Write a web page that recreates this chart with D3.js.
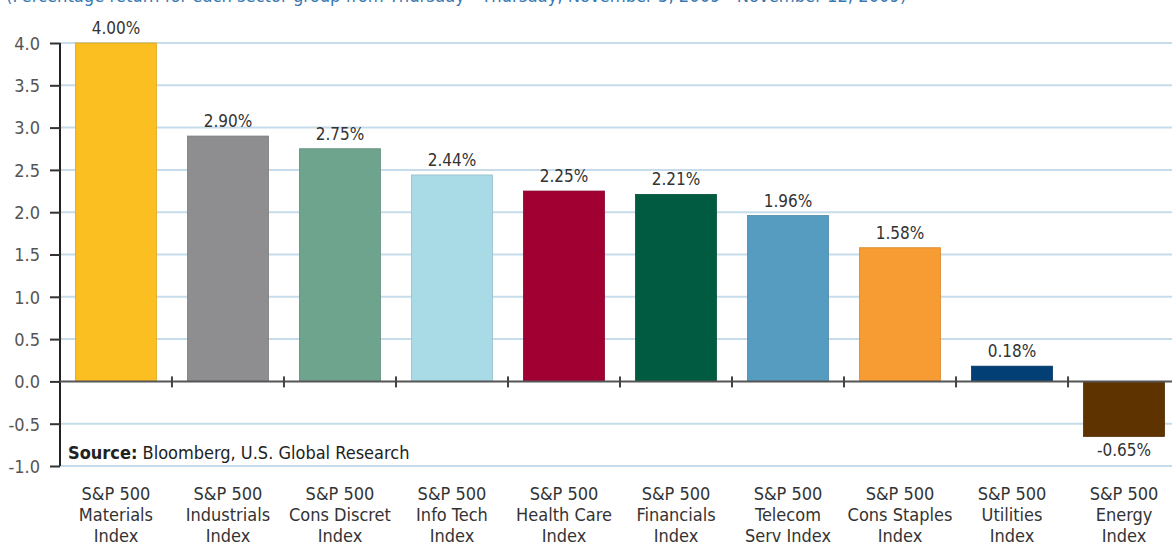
<!DOCTYPE html>
<html><head><meta charset="utf-8">
<script src="https://cdn.jsdelivr.net/npm/d3@7"></script>
<style>
body{margin:0;background:#fff;}
svg{display:block;}
text{font-family:"Liberation Sans Narrow","Arial Narrow","DejaVu Sans Condensed",sans-serif;}
</style></head>
<body><svg id="c" width="1172" height="543"></svg>
<script>
const categories = [
  ["S&P 500","Materials","Index"],
  ["S&P 500","Industrials","Index"],
  ["S&P 500","Cons Discret","Index"],
  ["S&P 500","Info Tech","Index"],
  ["S&P 500","Health Care","Index"],
  ["S&P 500","Financials","Index"],
  ["S&P 500","Telecom","Serv Index"],
  ["S&P 500","Cons Staples","Index"],
  ["S&P 500","Utilities","Index"],
  ["S&P 500","Energy","Index"]
];
const values = [4.00, 2.90, 2.75, 2.44, 2.25, 2.21, 1.96, 1.58, 0.18, -0.65];
const colors = ["#fcbf22","#8e8e91","#6ea38e","#a9dbe6","#a00032","#005b40","#559cc0","#f79c33","#013f74","#5e3300"];
const yTicks = [4.0,3.5,3.0,2.5,2.0,1.5,1.0,0.5,0.0,-0.5,-1.0];
const title = "(Percentage return for each sector group from Thursday - Thursday, November 5, 2009 - November 12, 2009)";

const svg = d3.select("#c");
const x = d3.scaleBand().domain(d3.range(values.length)).range([60,1180]).paddingInner(0.277).paddingOuter(0.138);
const y = d3.scaleLinear().domain([-1,4]).range([466,43]);

svg.append("text").attr("x",6).attr("y",2).attr("fill","#3a78b0").attr("font-size",18.2).text(title);

// gridlines
svg.append("g").selectAll("line").data(yTicks.filter(d=>d!==0)).join("line")
  .attr("x1",60).attr("x2",1172).attr("y1",d=>y(d)).attr("y2",d=>y(d))
  .attr("stroke","#c6dcea").attr("stroke-width",2);

// y axis
const ya = svg.append("g").attr("transform","translate(60,0)")
  .call(d3.axisLeft(y).tickValues(yTicks).tickFormat(d=>d.toFixed(1)).tickSize(10).tickPadding(10));
ya.select(".domain").attr("stroke","#222").attr("stroke-width",2).attr("d","M0,"+y(4)+"V"+y(-1));
ya.selectAll(".tick line").attr("stroke","#333").attr("stroke-width",2);
ya.selectAll(".tick text").attr("fill","#555").attr("font-size",18).attr("dy","0.35em");

// bars
svg.append("g").selectAll("rect").data(values).join("rect")
  .attr("x",(d,i)=>x(i)).attr("width",x.bandwidth())
  .attr("y",d=>y(Math.max(0,d))).attr("height",d=>Math.abs(y(d)-y(0)))
  .attr("fill",(d,i)=>colors[i])
  .attr("stroke",(d,i)=>d3.color(colors[i]).darker(0.4)).attr("stroke-width",0.8);

// zero line
svg.append("line").attr("x1",60).attr("x2",1172).attr("y1",y(0)).attr("y2",y(0))
  .attr("stroke","#555").attr("stroke-width",2);
// category ticks on zero line
svg.append("g").selectAll("line").data(d3.range(1,values.length)).join("line")
  .attr("x1",i=>x(i)-x.step()*x.paddingInner()/2).attr("x2",i=>x(i)-x.step()*x.paddingInner()/2)
  .attr("y1",y(0)-5).attr("y2",y(0)+6).attr("stroke","#444").attr("stroke-width",2);

// value labels
svg.append("g").selectAll("text").data(values).join("text")
  .attr("x",(d,i)=>x(i)+x.bandwidth()/2)
  .attr("y",d=>d>=0? y(d)-9 : y(d)+20)
  .attr("text-anchor","middle").attr("font-size",17).attr("fill","#333")
  .text(d=>d.toFixed(2)+"%");

// category labels
const cl = svg.append("g").selectAll("text").data(categories).join("text")
  .attr("x",(d,i)=>x(i)+x.bandwidth()/2).attr("y",500)
  .attr("text-anchor","middle").attr("font-size",18).attr("fill","#333");
cl.selectAll("tspan").data(d=>d).join("tspan")
  .attr("x",function(){return this.parentNode.getAttribute("x");})
  .attr("dy",(d,j)=>j===0?0:21).text(d=>d);

// source
const src = svg.append("text").attr("x",68).attr("y",459).attr("font-size",18).attr("fill","#222");
src.append("tspan").attr("font-weight","bold").text("Source:");
src.append("tspan").text(" Bloomberg, U.S. Global Research");
</script></body></html>
